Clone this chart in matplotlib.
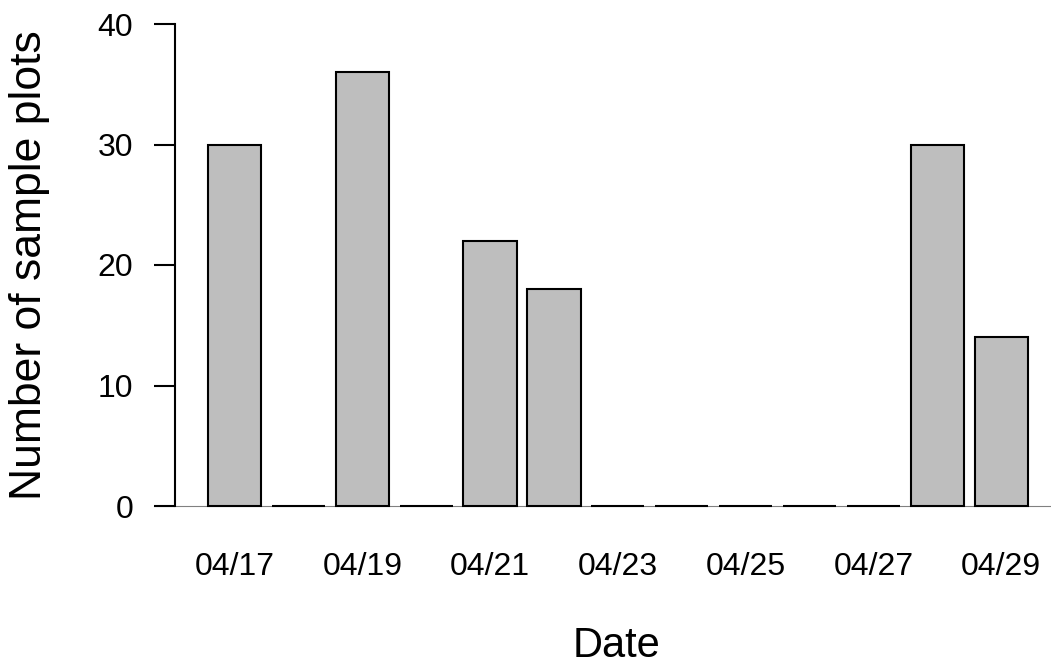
import matplotlib
matplotlib.use("Agg")
import matplotlib.pyplot as plt

# Daily counts of sample plots
dates = ["04/17", "04/18", "04/19", "04/20", "04/21", "04/22", "04/23",
         "04/24", "04/25", "04/26", "04/27", "04/28", "04/29"]
counts = [30, 0, 36, 0, 22, 18, 0, 0, 0, 0, 0, 30, 14]
y_ticks = [0, 10, 20, 30, 40]

plt.rcParams["font.family"] = ["Liberation Sans", "DejaVu Sans"]

W, H = 1051, 666
fig = plt.figure(figsize=(W / 100, H / 100), dpi=100)
left_px, right_px, bottom_px, top_px = 175, 1051, 506, 24
ax = fig.add_axes([left_px / W, 1 - bottom_px / H,
                   (right_px - left_px) / W, (bottom_px - top_px) / H])

x = list(range(len(dates)))
ax.set_xlim(-0.931, 12.78)
ax.set_ylim(0, 40)

# thin grey baseline under the bars
ax.axhline(0, xmin=-0.024, xmax=1.0, color="#808080", lw=0.8,
           clip_on=False, zorder=1)

ax.bar(x, counts, width=1 / 1.2, color="#bebebe", edgecolor="black",
       linewidth=1.5, clip_on=False, zorder=2)

for side in ["top", "right", "bottom"]:
    ax.spines[side].set_visible(False)
ax.spines["left"].set_linewidth(1.5)

ax.set_yticks(y_ticks)
ax.tick_params(axis="y", length=15, width=1.5, pad=15, labelsize=23)
ax.set_xticks(x[::2])
ax.set_xticklabels(dates[::2])
ax.tick_params(axis="x", length=0, pad=33, labelsize=23)

# axis titles
fig.text(30 / W, 1 - 265 / H, "Number of sample plots", fontsize=32,
         rotation=90, ha="center", va="center")
fig.text(617 / W, 1 - 657 / H, "Date", fontsize=30,
         ha="center", va="baseline")

fig.savefig("out.png", dpi=100)
